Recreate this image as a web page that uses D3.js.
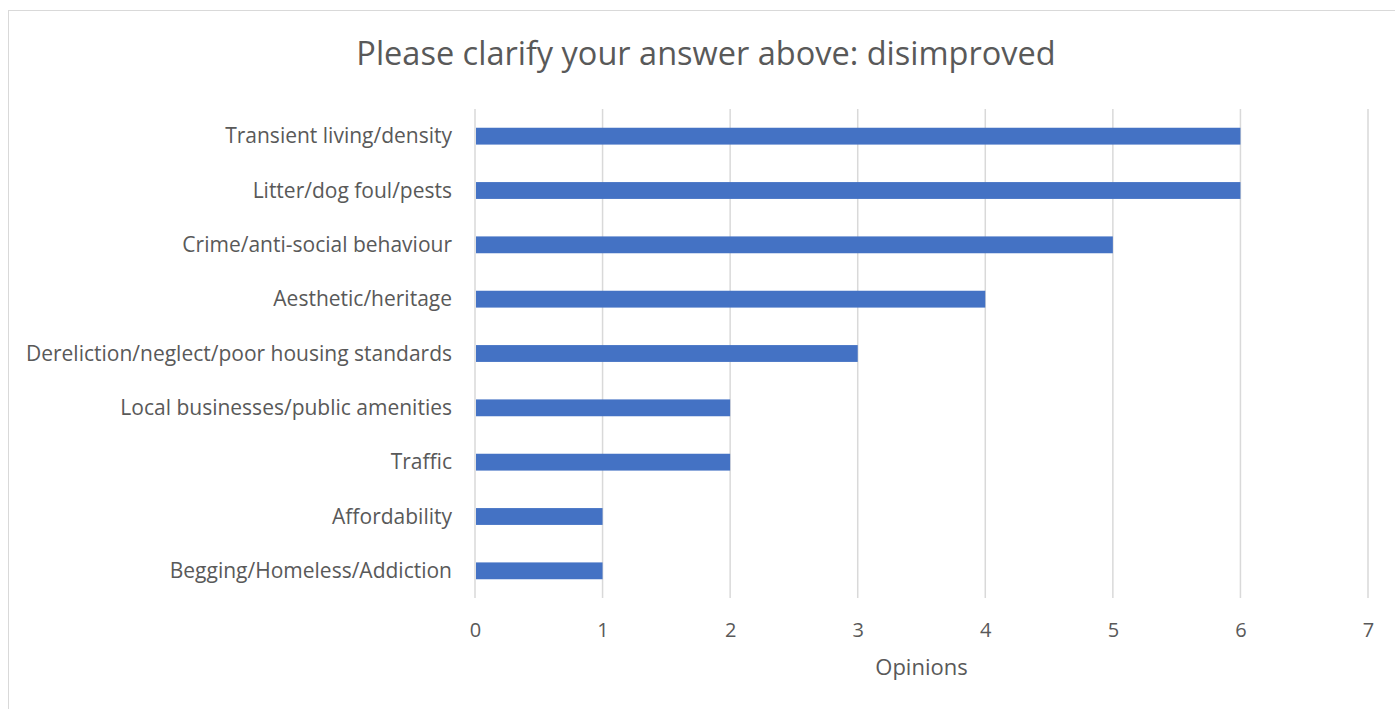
<!DOCTYPE html>
<html><head><meta charset="utf-8">
<script src="https://cdn.jsdelivr.net/npm/d3@7"></script>
<style>body{margin:0;background:#fff}svg{display:block}text{font-family:"Open Sans","Noto Sans",sans-serif}</style>
</head><body><svg id="c" width="1395" height="709"></svg>
<script>
const categories = ["Transient living/density","Litter/dog foul/pests","Crime/anti-social behaviour","Aesthetic/heritage","Dereliction/neglect/poor housing standards","Local businesses/public amenities","Traffic","Affordability","Begging/Homeless/Addiction"];
const values = [6,6,5,4,3,2,2,1,1];
const xTicks = [0,1,2,3,4,5,6,7];
const title = "Please clarify your answer above: disimproved";
const xTitle = "Opinions";

const svg = d3.select("#c");
svg.append("rect").attr("x",8.5).attr("y",10.5).attr("width",1395).attr("height",720).attr("fill","#fff").attr("stroke","#d9d9d9");
const m = {l:475,r:1368,t:109,b:598};
const x = d3.scaleLinear().domain([0,7]).range([m.l,m.r]);
const y = d3.scaleBand().domain(categories).range([m.t,m.b]).paddingInner(0.69).paddingOuter(0.345);

svg.append("g").selectAll("line").data(xTicks).join("line")
 .attr("x1",d=>x(d)).attr("x2",d=>x(d)).attr("y1",m.t).attr("y2",m.b)
 .attr("stroke","#d9d9d9").attr("stroke-width",1.5);

svg.append("g").selectAll("rect").data(values).join("rect")
 .attr("x",x(0)+1).attr("y",(d,i)=>y(categories[i]))
 .attr("width",d=>x(d)-x(0)-1).attr("height",y.bandwidth()).attr("fill","#4472c4");

const xa = d3.axisBottom(x).tickValues(xTicks).tickFormat(d3.format("d")).tickSize(0).tickPadding(0);
const gx = svg.append("g").attr("transform",`translate(0,${m.b})`).call(xa);
gx.select(".domain").remove();
gx.selectAll("text").attr("dy",null).attr("y",39).attr("font-size",20).attr("fill","#595959").attr("font-family",null);

const ya = d3.axisLeft(y).tickSize(0).tickPadding(0);
const gy = svg.append("g").attr("transform",`translate(${m.l-23},0)`).call(ya);
gy.select(".domain").remove();
gy.selectAll("text").attr("font-size",21).attr("fill","#595959").attr("font-family",null).attr("dy","0.34em");

svg.append("text").attr("x",(m.l+m.r)/2).attr("y",675).attr("text-anchor","middle").attr("font-size",22).attr("fill","#595959").text(xTitle);
svg.append("text").attr("x",706).attr("y",65).attr("text-anchor","middle").attr("font-size",32.5).attr("fill","#595959").text(title);
</script></body></html>
